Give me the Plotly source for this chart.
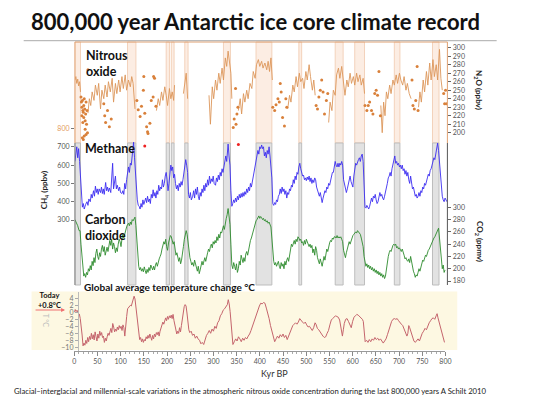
"""
800,000 year Antarctic ice core climate record (N2O / CH4 / CO2 / temperature).
"""

import plotly.graph_objects as go

W, H = 548, 412

# ---- データ----
BAND_START = [0, 113, 196, 207, 236, 319, 389, 481, 559, 601, 686, 768]
BAND_END = [12, 131, 203, 213, 243, 334, 423, 487, 576, 622, 698, 782]

N2O_KYR = [
    0, 2, 4, 6, 8, 10, 12, None,
    28, 31, 34, 37, 41, 44, 48, 51, 55, 58, 62, 65, 69, 72, 76, 80, 83, 87, 90, 94,
    97, 101, 104, 108, 111, 115, 119, 122, 125, 129, None,
    175, 179, 182, 186, 189, 193, 196, 199, 203, 206, 209, 212, 214, None,
    233, 236, 239, 242, None,
    288, 291, 295, 298, 302, 305, 309, 312, 316, 319, 323, 326, 329, 332, 335, 337, None,
    351, 355, 358, 362, 365, 369, 372, 376, 380, 383, 387, 390, 394, 397, 401, 404,
    408, 412, 415, 418, 421, 424, None,
    457, 461, 464, 468, 471, 475, 478, 482, 485, 489, 492, 496, 499, 503, 506, 510, 513, 516, None,
    545, 548, 552, 555, 559, 562, 566, 569, 573, 577, 580, 584, 587, 591, 594, 598,
    601, 605, 608, 612, 615, 619, 622, None,
    657, 660, 663, 666, 669, 672, 676, 679, 683, 686, 690, 693, 697, 700, 704, 707,
    711, 714, 718, 722, None,
    738, 741, 744, 748, 751, 755, 758, 762, 765, 769, 772, 776, 779, 783, 786, 789,
]
N2O_PPBV = [
    262, 266, 258, 263, 255, 260, 248, None,
    223, 240, 232, 248, 238, 256, 244, 258, 228, 250, 240, 256, 242, 260, 248, 264, 236, 258, 246, 262,
    248, 266, 252, 268, 250, 262, 254, 266, 258, 228, None,
    226, 240, 232, 248, 238, 254, 244, 232, 252, 240, 248, 238, 256, None,
    246, 262, 270, 240, None,
    244, 210, 254, 240, 262, 250, 270, 258, 276, 262, 288, 278, 296, 280, 270, 240, None,
    226, 240, 222, 246, 236, 250, 240, 258, 252, 272, 264, 280, 286, 278, 284, 276,
    282, 274, 284, 272, 288, 262, None,
    228, 244, 236, 256, 248, 266, 254, 270, 260, 264, 252, 272, 262, 280, 266, 250, 262, 244, None,
    212, 236, 226, 250, 244, 268, 276, 264, 278, 258, 244, 262, 254, 270, 258, 266,
    256, 270, 260, 268, 256, 264, 246, None,
    232, 200, 236, 220, 248, 240, 256, 246, 262, 256, 268, 258, 270, 262, 256, 266,
    250, 258, 246, 240, None,
    230, 248, 236, 262, 248, 272, 256, 282, 262, 286, 266, 280, 262, 298, 264, 250,
]

N2O_DOT_KYR = [
    13, 14, 15, 15, 16, 17, 17, 18, 19, 19, 20, 21, 22, 22, 23, 24, 25, 26, 27, 24,
    28, 62, 64, 66, 70, 74, 78,
    133, 136, 140, 143, 147, 148, 150, 154, 156, 157, 161, 164, 168, 169, 171, 174,
    340, 342, 345, 346, 348, 350,
    425, 429, 432, 436, 439, 441, 443, 446, 450, 453, 455,
    518, 521, 524, 527, 530, 533, 536, 540, 543,
    623, 627, 630, 633, 637, 640, 644, 647, 650, 653, 656,
    724, 726, 729, 732, 735, 737,
    792, 794, 796, 798, 16, 18, 20,
]
N2O_DOT_PPBV = [
    242, 236, 230, 220, 238, 226, 212, 224, 232, 218, 240, 228, 214, 204, 222, 236, 210, 226, 200, 198,
    274, 234, 220, 212, 226, 207, 216,
    238, 227, 219, 231, 250, 266, 223, 207, 201, 199, 211, 238, 242, 266, 264, 231,
    206, 216, 252, 210, 222, 230,
    230, 226, 233, 240, 236, 258, 248, 218, 208, 240, 230,
    232, 228, 242, 250, 262, 248, 222, 238, 246,
    232, 226, 232, 236, 226, 222, 246, 250, 244, 272, 220,
    262, 232, 228, 238, 278, 226,
    246, 234, 250, 234, 194, 192, 196,
]

RED_DOT_KYR = [150, 351]
RED_DOT_CH4 = [705, 712]

CH4_KYR = [
    0, 2, 4, 6, 8, 10, 12, 14, 16, 18,
    20, 23, 26, 28, 30, 33, 35, 37, 40, 42,
    44, 46, 48, 50, 52, 55, 57, 59, 61, 63,
    66, 68, 70, 72, 74, 77, 79, 81, 83, 85,
    87, 89, 91, 94, 96, 98, 101, 103, 105, 107,
    109, 111, 113, 115, 117, 119, 121, 123, 125, 126,
    128, 130, 132, 134, 136, 138, 140, 142, 144, 146,
    148, 150, 152, 154, 156, 158, 160, 162, 164, 166,
    168, 170, 172, 174, 176, 178, 180, 182, 184, 186,
    188, 190, 192, 194, 196, 198, 200, 202, 204, 206,
    208, 210, 212, 214, 216, 218, 220, 222, 224, 226,
    228, 230, 232, 234, 236, 238, 240, 242, 244, 246,
    248, 250, 253, 255, 257, 259, 261, 263, 265, 267,
    269, 271, 273, 275, 277, 279, 281, 283, 285, 287,
    289, 291, 293, 295, 297, 299, 302, 304, 306, 308,
    310, 312, 314, 316, 318, 320, 322, 324, 326, 328,
    329, 331, 333, 335, 337, 339, 341, 343, 345, 347,
    349, 351, 353, 355, 357, 359, 361, 363, 365, 367,
    369, 371, 373, 375, 377, 379, 381, 383, 385, 387,
    389, 391, 393, 395, 397, 399, 401, 403, 405, 407,
    409, 411, 413, 415, 417, 419, 421, 423, 425, 427,
    429, 431, 433, 435, 437, 439, 441, 443, 445, 447,
    449, 451, 453, 455, 457, 459, 461, 463, 465, 467,
    469, 471, 473, 475, 477, 479, 481, 483, 485, 487,
    489, 491, 493, 495, 497, 499, 501, 503, 505, 507,
    509, 511, 513, 515, 517, 519, 521, 523, 525, 527,
    529, 531, 533, 535, 537, 539, 541, 543, 545, 547,
    549, 551, 553, 555, 557, 559, 561, 563, 565, 567,
    569, 571, 573, 575, 577, 579, 581, 583, 585, 587,
    589, 591, 593, 595, 597, 599, 601, 603, 605, 607,
    609, 611, 613, 615, 617, 619, 621, 623, 625, 627,
    629, 631, 633, 635, 637, 639, 641, 643, 645, 647,
    649, 651, 653, 655, 657, 659, 661, 663, 665, 667,
    669, 671, 673, 675, 677, 679, 681, 683, 685, 687,
    689, 691, 693, 695, 697, 699, 701, 703, 705, 707,
    709, 711, 713, 715, 717, 719, 721, 723, 725, 727,
    729, 731, 733, 735, 737, 739, 741, 743, 745, 747,
    749, 751, 753, 755, 757, 759, 761, 763, 765, 767,
    769, 771, 773, 775, 777, 779, 781, 783, 785, 787,
    789, 791, 793, 795, 797, 799,
]
CH4_PPBV = [
    620, 680, 700, 640, 690, 620, 520, 420, 370, 390,
    360, 385, 400, 380, 415, 400, 440, 420, 460, 430,
    485, 450, 470, 440, 470, 450, 480, 445, 470, 440,
    505, 460, 480, 455, 475, 450, 520, 610, 470, 500,
    540, 470, 490, 460, 480, 450, 445, 460, 440, 500,
    470, 520, 560, 590, 560, 610, 600, 650, 680, 725,
    640, 560, 450, 410, 380, 375, 360, 390, 370, 410,
    385, 400, 420, 395, 430, 400, 415, 390, 440, 420,
    465, 430, 450, 420, 460, 440, 490, 460, 480, 470,
    520, 480, 500, 540, 560, 520, 460, 500, 540, 600,
    570, 590, 530, 550, 500, 470, 490, 460, 500, 480,
    510, 490, 520, 560, 590, 630, 600, 560, 440, 420,
    450, 410, 430, 460, 420, 470, 440, 480, 430, 410,
    450, 430, 470, 450, 490, 460, 500, 480, 520, 490,
    540, 500, 525, 510, 540, 500, 490, 530, 510, 545,
    520, 560, 540, 580, 560, 600, 630, 650, 620, 680,
    715, 650, 600, 460, 375, 390, 410, 395, 420, 400,
    430, 410, 440, 420, 445, 425, 450, 430, 455, 440,
    470, 450, 480, 460, 500, 480, 510, 540, 570, 590,
    630, 650, 680, 660, 700, 690, 710, 690, 700, 650,
    670, 640, 680, 660, 700, 650, 600, 530, 390, 380,
    395, 385, 410, 400, 430, 440, 470, 445, 480, 455,
    470, 440, 460, 420, 450, 440, 470, 460, 490, 480,
    520, 500, 540, 520, 560, 550, 590, 610, 580, 560,
    540, 545, 520, 530, 515, 535, 520, 540, 510, 530,
    500, 520, 505, 530, 520, 480, 460, 440, 430, 450,
    410, 395, 420, 440, 460, 450, 480, 470, 500, 490,
    520, 540, 560, 560, 600, 620, 600, 590, 610, 590,
    610, 600, 620, 600, 520, 490, 460, 450, 470, 500,
    520, 540, 510, 490, 480, 540, 590, 610, 600, 620,
    630, 640, 620, 650, 660, 620, 420, 370, 365, 380,
    370, 360, 375, 410, 420, 400, 430, 420, 440, 410,
    390, 400, 420, 450, 430, 440, 420, 410, 430, 450,
    480, 500, 530, 540, 560, 540, 580, 600, 620, 650,
    610, 620, 600, 610, 590, 600, 580, 600, 570, 580,
    550, 570, 540, 560, 520, 500, 540, 500, 470, 480,
    450, 430, 440, 420, 430, 450, 430, 460, 450, 480,
    470, 500, 490, 520, 530, 550, 540, 570, 580, 600,
    620, 640, 630, 660, 690, 720, 680, 620, 560, 460,
    430, 410, 400, 420, 410, 400,
]

CO2_KYR = [
    0, 3, 6, 9, 11, 13, 15, 17, 19, 21,
    23, 25, 27, 29, 31, 33, 35, 37, 39, 41,
    43, 45, 47, 49, 51, 53, 55, 57, 59, 61,
    63, 65, 67, 69, 71, 73, 75, 77, 79, 81,
    83, 85, 87, 89, 91, 93, 95, 97, 99, 101,
    103, 105, 107, 109, 111, 113, 115, 117, 119, 121,
    123, 125, 127, 129, 131, 133, 135, 137, 139, 141,
    143, 145, 147, 149, 151, 153, 155, 157, 159, 161,
    163, 165, 167, 169, 171, 173, 175, 177, 179, 181,
    183, 185, 187, 189, 191, 193, 195, 197, 199, 201,
    203, 205, 207, 209, 211, 213, 215, 217, 219, 221,
    223, 225, 227, 229, 231, 233, 235, 237, 239, 241,
    243, 245, 247, 249, 251, 253, 255, 257, 259, 261,
    263, 265, 267, 269, 271, 273, 275, 277, 279, 281,
    283, 285, 287, 289, 291, 293, 295, 297, 299, 301,
    303, 305, 307, 309, 311, 313, 315, 317, 319, 321,
    323, 325, 327, 329, 331, 333, 335, 337, 339, 341,
    343, 345, 347, 349, 351, 353, 355, 357, 359, 361,
    363, 365, 367, 369, 371, 373, 375, 377, 379, 381,
    383, 385, 387, 389, 391, 393, 395, 397, 399, 401,
    403, 405, 407, 409, 411, 413, 415, 417, 419, 421,
    423, 425, 427, 429, 431, 433, 435, 437, 439, 441,
    443, 445, 447, 449, 451, 453, 455, 457, 459, 461,
    463, 465, 467, 469, 471, 473, 475, 477, 479, 481,
    483, 485, 487, 489, 491, 493, 495, 497, 499, 501,
    503, 505, 507, 509, 511, 513, 515, 517, 519, 521,
    523, 525, 527, 529, 531, 533, 535, 537, 539, 541,
    543, 545, 547, 549, 551, 553, 555, 557, 559, 561,
    563, 565, 567, 569, 571, 573, 575, 577, 579, 581,
    583, 585, 587, 589, 591, 593, 595, 597, 599, 601,
    603, 605, 607, 609, 611, 613, 615, 617, 619, 621,
    623, 625, 627, 629, 631, 633, 635, 637, 639, 641,
    643, 645, 647, 649, 651, 653, 655, 657, 659, 661,
    663, 665, 667, 669, 671, 673, 675, 677, 679, 681,
    683, 685, 687, 689, 691, 693, 695, 697, 699, 701,
    703, 705, 707, 709, 711, 713, 715, 717, 719, 721,
    723, 725, 727, 729, 731, 733, 735, 737, 739, 741,
    743, 745, 747, 749, 751, 753, 755, 757, 759, 761,
    763, 765, 767, 769, 771, 773, 775, 777, 779, 781,
    783, 785, 787, 789, 791, 793, 795,
]
CO2_PPMV = [
    280, 275, 270, 262, 262, 240, 220, 195, 188, 192,
    186, 194, 190, 200, 196, 205, 198, 212, 205, 218,
    210, 225, 232, 220, 215, 226, 220, 232, 238, 228,
    236, 222, 230, 235, 228, 240, 246, 238, 248, 232,
    242, 236, 226, 234, 228, 240, 248, 244, 236, 248,
    256, 250, 258, 262, 268, 272, 274, 270, 276, 272,
    280, 278, 282, 284, 270, 240, 215, 204, 198, 202,
    196, 200, 195, 203, 197, 192, 199, 194, 202, 197,
    206, 200, 198, 204, 198, 206, 210, 204, 212, 216,
    220, 224, 232, 238, 244, 240, 248, 236, 230, 242,
    248, 254, 252, 246, 240, 244, 232, 222, 226, 216,
    212, 218, 208, 214, 222, 236, 248, 258, 262, 256,
    240, 224, 218, 212, 206, 210, 204, 214, 208, 200,
    196, 204, 192, 198, 206, 212, 206, 214, 218, 212,
    222, 226, 232, 228, 236, 240, 234, 244, 240, 246,
    242, 252, 246, 256, 250, 260, 258, 266, 270, 264,
    278, 282, 288, 298, 286, 272, 240, 206, 200, 210,
    204, 198, 208, 194, 200, 212, 206, 222, 216, 210,
    218, 212, 224, 228, 222, 232, 238, 246, 250, 256,
    262, 266, 272, 278, 280, 284, 286, 282, 285, 283,
    280, 282, 278, 280, 276, 278, 274, 276, 272, 268,
    250, 222, 212, 206, 210, 204, 208, 212, 204, 200,
    210, 204, 208, 200, 212, 206, 214, 218, 212, 224,
    232, 240, 236, 244, 246, 240, 248, 244, 252, 250,
    246, 248, 242, 244, 238, 246, 240, 248, 244, 242,
    236, 240, 234, 238, 226, 232, 222, 236, 230, 218,
    212, 208, 216, 206, 204, 212, 220, 214, 226, 232,
    228, 238, 242, 246, 244, 250, 248, 252, 252, 250,
    254, 250, 252, 250, 252, 248, 244, 230, 222, 218,
    226, 232, 238, 244, 240, 246, 250, 254, 256, 258,
    260, 258, 262, 260, 258, 256, 250, 244, 236, 220,
    208, 204, 208, 202, 206, 200, 204, 198, 202, 196,
    200, 194, 198, 192, 196, 190, 194, 188, 192, 186,
    190, 184, 188, 200, 212, 220, 226, 230, 228, 234,
    238, 240, 238, 240, 234, 236, 232, 234, 230, 228,
    232, 224, 222, 216, 218, 214, 212, 216, 210, 220,
    212, 200, 196, 192, 186, 190, 188, 194, 200, 196,
    204, 208, 214, 212, 218, 222, 220, 226, 230, 232,
    236, 240, 244, 248, 250, 252, 256, 258, 262, 266,
    250, 230, 212, 200, 206, 194, 198,
]

TEMP_KYR = [
    0, 2, 4, 6, 9, 11, 13, 15, 17, 19,
    21, 23, 25, 27, 29, 31, 33, 35, 37, 39,
    41, 43, 45, 47, 49, 51, 53, 55, 57, 59,
    61, 63, 65, 67, 69, 71, 73, 75, 77, 79,
    81, 83, 85, 87, 89, 91, 93, 95, 97, 99,
    101, 103, 105, 107, 109, 111, 113, 115, 117, 119,
    121, 123, 125, 127, 129, 131, 133, 135, 137, 139,
    141, 143, 145, 147, 149, 151, 153, 155, 157, 159,
    161, 163, 165, 167, 169, 171, 173, 175, 177, 179,
    181, 183, 185, 187, 189, 191, 193, 195, 197, 199,
    201, 203, 205, 207, 209, 211, 213, 215, 217, 219,
    221, 223, 225, 227, 229, 231, 233, 235, 237, 239,
    241, 243, 245, 247, 249, 252, 255, 258, 261, 264,
    267, 270, 273, 276, 279, 282, 285, 288, 291, 294,
    297, 300, 303, 306, 309, 312, 315, 318, 321, 324,
    327, 330, 332, 334, 336, 338, 340, 342, 345, 348,
    351, 354, 357, 360, 363, 366, 369, 372, 375, 378,
    381, 384, 387, 390, 393, 396, 399, 402, 405, 408,
    411, 414, 417, 420, 423, 426, 429, 432, 435, 438,
    441, 444, 447, 450, 453, 456, 459, 462, 465, 468,
    471, 474, 477, 480, 483, 486, 489, 492, 495, 498,
    501, 504, 507, 510, 513, 516, 519, 521, 524, 527,
    530, 533, 536, 539, 542, 545, 548, 551, 554, 557,
    560, 563, 566, 569, 572, 574, 576, 578, 580, 582,
    585, 588, 591, 594, 597, 600, 603, 606, 609, 612,
    615, 618, 621, 623, 625, 627, 630, 633, 636, 639,
    642, 645, 648, 651, 654, 657, 660, 663, 666, 669,
    672, 675, 678, 681, 684, 687, 690, 693, 696, 699,
    702, 705, 708, 711, 714, 717, 719, 721, 723, 726,
    729, 732, 735, 738, 741, 744, 747, 750, 753, 756,
    759, 762, 765, 768, 771, 774, 777, 780, 782, 784,
    787, 790, 793, 796, 798,
]
TEMP_C = [
    0.0, 0.8, 0.2, 0.6, -0.3, -0.5, -1.8, -3.5, -6.5, -9.6,
    -8.8, -9.4, -8.0, -8.9, -7.2, -8.4, -6.9, -7.8, -6.0, -7.6,
    -6.4, -7.9, -5.6, -7.0, -8.2, -6.2, -7.4, -5.4, -6.6, -5.8,
    -7.2, -6.8, -8.6, -7.4, -8.2, -7.0, -6.0, -6.6, -5.2, -4.6,
    -5.8, -3.2, -4.2, -5.6, -4.8, -5.4, -4.2, -5.0, -3.8, -4.6,
    -4.0, -5.2, -3.6, -4.4, -6.8, -3.0, -1.2, 1.0, 1.4, 1.6,
    2.0, 1.8, 2.6, 3.4, 4.6, 3.8, 1.5, -1.0, -4.5, -7.0,
    -7.8, -7.2, -8.4, -7.6, -8.6, -7.8, -8.2, -7.0, -7.6, -6.6,
    -7.4, -6.2, -7.2, -8.0, -6.6, -7.6, -6.2, -7.0, -5.8, -6.4,
    -5.6, -6.8, -5.4, -4.6, -3.8, -2.8, -3.4, -2.2, -1.6, -2.4,
    -1.2, -2.0, -1.0, -1.6, -0.8, -1.8, -0.6, -2.4, -4.0, -5.2,
    -6.2, -5.4, -6.0, -4.4, -5.6, -3.8, -1.4, 0.6, 1.6, 2.2,
    1.8, -0.2, -3.6, -5.0, -5.8, -5.4, -6.6, -6.2, -7.4, -6.8,
    -7.6, -8.0, -9.0, -8.6, -9.2, -7.8, -6.6, -6.0, -5.2, -6.0,
    -4.8, -5.4, -4.0, -4.6, -3.0, -2.4, -1.0, -0.4, 0.6, 1.0,
    1.6, 2.2, 3.6, 2.4, 0.2, -3.0, -6.4, -9.2, -8.4, -7.6,
    -8.2, -7.0, -7.6, -8.4, -7.4, -8.0, -7.2, -7.6, -6.8, -6.2,
    -5.2, -4.0, -2.8, -1.8, -0.2, 0.8, 1.8, 2.6, 2.4, 2.8,
    2.6, 1.2, 0.0, -1.8, -3.8, -5.2, -7.2, -8.4, -7.6, -6.8,
    -7.4, -6.4, -7.0, -6.2, -7.2, -6.6, -7.8, -6.8, -5.4, -4.8,
    -3.8, -3.4, -3.0, -3.4, -2.8, -1.8, -2.4, -2.8, -3.2, -2.8,
    -3.6, -4.2, -4.0, -4.6, -5.2, -4.4, -3.0, -3.4, -4.6, -5.0,
    -5.6, -6.4, -6.8, -7.2, -7.0, -6.0, -5.2, -3.6, -2.2, -1.8,
    -1.4, -1.0, -1.2, -1.4, -2.2, -3.6, -5.8, -6.8, -5.0, -3.2,
    -2.0, -1.8, -2.6, -3.8, -4.4, -2.6, -1.4, -1.0, -0.6, -0.8,
    -1.2, -1.6, -2.0, -2.6, -6.0, -8.4, -8.0, -8.6, -7.8, -8.4,
    -7.6, -8.0, -7.2, -7.8, -7.4, -8.0, -7.6, -8.4, -8.8, -8.2,
    -7.6, -6.4, -5.0, -3.6, -2.6, -2.0, -1.8, -2.0, -1.8, -2.4,
    -3.0, -3.4, -3.8, -5.0, -5.6, -6.8, -6.0, -3.8, -4.4, -5.8,
    -6.6, -8.2, -8.6, -8.0, -7.6, -8.2, -6.8, -6.0, -5.4, -4.6,
    -5.0, -3.8, -3.0, -2.4, -1.8, -1.6, -2.0, -1.0, -0.4, -1.6,
    -3.2, -5.0, -6.8, -8.2, -8.6,
]

FONT = "Lato, 'Open Sans', sans-serif"


def fx(px):
    return px / W


def fy(py):
    return 1 - py / H


fig = go.Figure()

# N2O
fig.add_trace(go.Scatter(x=N2O_KYR, y=N2O_PPBV, mode="lines", xaxis="x2", yaxis="y2",
                         line=dict(color="#dc965a", width=0.9), connectgaps=False))
fig.add_trace(go.Scatter(x=N2O_DOT_KYR, y=N2O_DOT_PPBV, mode="markers", xaxis="x2", yaxis="y2",
                         marker=dict(color="#d9803a", size=3)))
# CH4
fig.add_trace(go.Scatter(x=CH4_KYR, y=CH4_PPBV, mode="lines", xaxis="x2", yaxis="y3",
                         line=dict(color="#3b2cf0", width=0.9)))
fig.add_trace(go.Scatter(x=RED_DOT_KYR, y=RED_DOT_CH4, mode="markers", xaxis="x2", yaxis="y3",
                         marker=dict(color="#ee2222", size=3)))
# CO2
fig.add_trace(go.Scatter(x=CO2_KYR, y=CO2_PPMV, mode="lines", xaxis="x2", yaxis="y4",
                         line=dict(color="#2e8b2e", width=0.9)))
# 気温
fig.add_trace(go.Scatter(x=TEMP_KYR, y=TEMP_C, mode="lines", xaxis="x", yaxis="y",
                         line=dict(color="#c4646c", width=1)))

shapes = []
# 間氷期の帯
for a, b in zip(BAND_START, BAND_END):
    shapes.append(dict(type="rect", xref="x2", yref="paper", x0=a, x1=b, y0=fy(143), y1=fy(42),
                       fillcolor="#fcede3", line=dict(color="#f3d2bb", width=1), layer="below"))
    shapes.append(dict(type="rect", xref="x2", yref="paper", x0=a, x1=b, y0=fy(285), y1=fy(143),
                       fillcolor="#e2e2e2", line=dict(color="#bdbdbd", width=1), layer="below"))
# 気温パネルの背景
shapes.append(dict(type="rect", xref="paper", yref="paper", x0=fx(30), x1=fx(462),
                   y0=fy(350), y1=fy(291.5), fillcolor="#fdf8e2", line=dict(width=0), layer="below"))
# 枠線
orange = "#e0a070"
for x0, y0, x1, y1, c in [(74, 42, 452, 42, orange), (74, 42, 74, 143, orange),
                           (452, 42, 452, 143, orange), (74, 143, 74, 285, "#777777"),
                           (452, 143, 452, 285, "#555555"), (22, 40.7, 502, 40.7, "#aaaaaa")]:
    shapes.append(dict(type="line", xref="paper", yref="paper", x0=fx(x0), y0=fy(y0),
                       x1=fx(x1), y1=fy(y1), line=dict(color=c, width=1)))

tickfont = dict(family=FONT, size=7, color="#555")
ann = [
    dict(x=fx(257), y=fy(22), text="<b>800,000 year Antarctic ice core climate record</b>",
         font=dict(family=FONT, size=22, color="#111")),
    dict(x=fx(83), y=fy(63), text="<b>Nitrous<br>oxide</b>", xanchor="left", align="left",
         font=dict(family=FONT, size=12.5, color="#111")),
    dict(x=fx(82), y=fy(148), text="<b>Methane</b>", xanchor="left",
         font=dict(family=FONT, size=12.5, color="#111")),
    dict(x=fx(82), y=fy(227), text="<b>Carbon<br>dioxide</b>", xanchor="left", align="left",
         font=dict(family=FONT, size=12.5, color="#111")),
    dict(x=fx(43), y=fy(190), text="<b>CH<sub>4</sub> (ppbv)</b>", textangle=-90,
         font=dict(family=FONT, size=8, color="#222")),
    dict(x=fx(484), y=fy(90), text="<b>N<sub>2</sub>O (ppbv)</b>", textangle=90,
         font=dict(family=FONT, size=8, color="#222")),
    dict(x=fx(484), y=fy(242), text="<b>CO<sub>2</sub> (ppmv)</b>", textangle=90,
         font=dict(family=FONT, size=8, color="#222")),
    dict(x=fx(81), y=fy(287), text="<b>Global average temperature change °C</b>", xanchor="left",
         font=dict(family=FONT, size=10, color="#111")),
    dict(x=fx(48), y=fy(300), text="<b>Today<br>+0.8°C</b>",
         font=dict(family=FONT, size=7.5, color="#111")),
    dict(x=fx(45), y=fy(321), text="T °C", textangle=90,
         font=dict(family=FONT, size=7, color="#bbbbbb")),
    dict(x=fx(277), y=fy(373), text="Kyr BP", font=dict(family=FONT, size=9, color="#333")),
    dict(x=fx(252), y=fy(391),
         text="Glacial–interglacial and millennial-scale variations in the atmospheric nitrous oxide "
              "concentration during the last 800,000 years A Schilt 2010",
         font=dict(family=FONT, size=7.7, color="#222")),
    dict(x=fx(64), y=fy(310), ax=-31, ay=0,
         text="", showarrow=True, arrowhead=2, arrowsize=0.8, arrowwidth=1, arrowcolor="#f07070"),
]
for a in ann:
    a.setdefault("xref", "paper")
    a.setdefault("yref", "paper")
    a.setdefault("showarrow", False)
    a.setdefault("xanchor", "center")
    a.setdefault("yanchor", "middle")

fig.update_layout(
    width=W, height=H, autosize=False,
    margin=dict(l=0, r=0, t=0, b=0),
    paper_bgcolor="white", plot_bgcolor="rgba(0,0,0,0)",
    showlegend=False,
    shapes=shapes, annotations=ann,
    xaxis=dict(domain=[fx(73.3), fx(450)], range=[0, 800], anchor="y",
               tickmode="linear", tick0=0, dtick=50, ticks="outside", ticklen=4,
               tickcolor="#888", showline=True, linecolor="#999", linewidth=1,
               tickfont=tickfont, showgrid=False, zeroline=False,
               minor=dict(dtick=10, ticks="outside", ticklen=2, tickcolor="#aaa")),
    xaxis2=dict(domain=[fx(74), fx(452)], range=[0, 800], anchor="y2", visible=False),
    yaxis=dict(domain=[fy(351), fy(292)], range=[-11.06, 5.8], anchor="free", position=fx(77),
               tickvals=[-10, -8, -6, -4, -2, 0, 2, 4], ticks="outside", ticklen=3,
               tickcolor="#aaa", showline=True, linecolor="#bbb", tickfont=dict(family=FONT, size=7, color="#777"),
               showgrid=False, zeroline=False),
    yaxis2=dict(domain=[fy(143), fy(42)], range=[187.9, 306.7], anchor="x2", side="right",
                tickvals=[200, 210, 220, 230, 240, 250, 260, 270, 280, 290, 300],
                ticks="outside", ticklen=3, tickcolor="#666", tickfont=tickfont,
                showgrid=False, zeroline=False, showline=False),
    yaxis3=dict(domain=[fy(230), fy(115)], range=[245.4, 873.8], anchor="x2", side="left",
                tickvals=[300, 400, 500, 600, 700, 800],
                ticktext=["300", "400", "500", "600", "700", "<span style='color:#e39a60'>800</span>"],
                ticks="outside", ticklen=3, tickcolor="#777", tickfont=tickfont,
                showgrid=False, zeroline=False, showline=False),
    yaxis4=dict(domain=[fy(285), fy(200)], range=[173.5, 311.9], anchor="x2", side="right",
                tickvals=[180, 200, 220, 240, 260, 280, 300],
                ticks="outside", ticklen=3, tickcolor="#666", tickfont=tickfont,
                showgrid=False, zeroline=False, showline=False),
)

# ブラウザ既定の body 余白を消す
fig.write_html("out.html", config={"displayModeBar": False},
               post_script="document.body.style.margin='0';")
